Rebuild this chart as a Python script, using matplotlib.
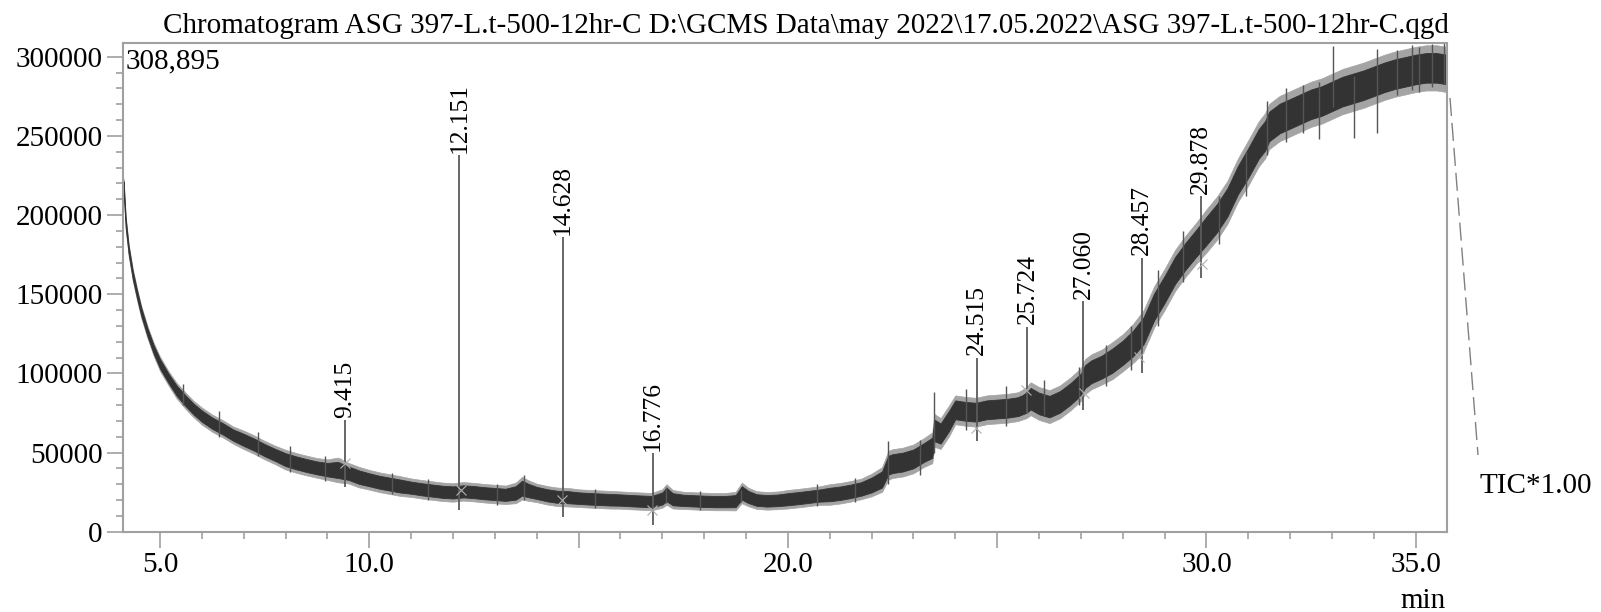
import numpy as np
import matplotlib
matplotlib.use('Agg')
import matplotlib.pyplot as plt
from matplotlib.ticker import MultipleLocator, FixedLocator, FixedFormatter
from matplotlib.lines import Line2D

plt.rcParams['font.family'] = ['Liberation Serif', 'DejaVu Serif']

# TIC trace: band centre and half width of the noise
rt = [4.13, 4.18, 4.25, 4.35, 4.45, 4.55, 4.7, 4.85,
      5.0, 5.2, 5.4, 5.6, 5.8,
      6.0, 6.25, 6.5, 6.75,
      7.0, 7.25, 7.5, 7.75,
      8.0, 8.25, 8.5, 8.75,
      9.0, 9.25, 9.5, 9.75,
      10.0, 10.25, 10.5, 10.75,
      11.0, 11.25, 11.5, 11.75,
      12.0, 12.25, 12.5, 12.75,
      13.0, 13.25, 13.5, 13.65, 13.8,
      14.0, 14.25, 14.5, 14.75,
      15.0, 15.25, 15.5, 15.75,
      16.0, 16.25, 16.5, 16.75,
      17.0, 17.1, 17.25, 17.5, 17.75,
      18.0, 18.25, 18.5, 18.75, 18.9,
      19.05, 19.25, 19.5, 19.75,
      20.0, 20.25, 20.5, 20.75,
      21.0, 21.25, 21.5, 21.75,
      22.0, 22.25, 22.4, 22.5, 22.75,
      23.0, 23.25, 23.45, 23.5, 23.65, 23.85,
      24.0, 24.25, 24.5, 24.75,
      25.0, 25.25, 25.5, 25.7, 25.8,
      26.0, 26.25, 26.5, 26.75,
      27.0, 27.1, 27.25, 27.5, 27.75,
      28.0, 28.25, 28.5, 28.75,
      29.0, 29.25, 29.5, 29.75,
      30.0, 30.25, 30.5, 30.75,
      31.0, 31.25, 31.4, 31.5, 31.75,
      32.0, 32.25, 32.5, 32.75,
      33.0, 33.25, 33.5, 33.75,
      34.0, 34.25, 34.5, 34.75,
      35.0, 35.25, 35.5, 35.74]

tic_center = [218000, 195000, 178000, 162000, 150000, 139000, 126000, 115000,
              106000, 97000, 89000, 83000, 77500,
              73000, 68500, 65000, 61000,
              58000, 55000, 51500, 48500,
              45500, 43500, 41800, 40300,
              39200, 39000, 37000, 34500,
              32800, 31200, 30000, 28800,
              27800, 26800, 26000, 25200,
              24800, 25500, 25000, 24300,
              23800, 23300, 24500, 27500, 26000,
              24500, 23000, 22000, 21800,
              21200, 20800, 20500, 20200,
              20000, 19600, 19300, 19000,
              21000, 23500, 20500, 19800, 19500,
              19200, 19000, 19000, 19300, 24500,
              22000, 20000, 19500, 19800,
              20500, 21200, 22000, 22800,
              23500, 24300, 25500, 27000,
              29500, 33000, 42000, 43000, 44000,
              46000, 50000, 53000, 64000, 62000, 70000,
              77000, 76000, 75500, 77000,
              77500, 78000, 79000, 81500, 84000,
              81000, 79000, 82000, 87000,
              93000, 98000, 101000, 104000, 108000,
              113000, 119000, 127000, 142000,
              153000, 165000, 174000, 182000,
              190000, 198000, 208000, 222000,
              233000, 245000, 250000, 256000, 261000,
              264000, 267000, 270000, 272000,
              275000, 278000, 280000, 282000,
              284500, 287000, 289000, 290500,
              292000, 293000, 293000, 292000]

tic_noise = [4000, 3500, 3000, 3000, 3000, 3000, 3000, 3200,
             3500, 3500, 3800, 4000, 4000,
             4200, 4200, 4200, 4200,
             4500, 4500, 4500, 4500,
             4800, 4800, 4800, 4800,
             5000, 6000, 5000, 5000,
             4800, 4800, 4800, 4800,
             4500, 4500, 4500, 4500,
             4500, 4500, 4500, 4500,
             4500, 4500, 5000, 5500, 5000,
             4500, 4500, 4500, 4500,
             4300, 4300, 4300, 4300,
             4200, 4200, 4200, 4200,
             4500, 5000, 4500, 4200, 4200,
             4200, 4200, 4200, 4500, 5000,
             4500, 4300, 4300, 4300,
             4500, 4500, 4500, 4500,
             5000, 5000, 5000, 5000,
             5500, 6000, 7000, 7000, 7000,
             7000, 7000, 7500, 8000, 7500, 7500,
             7000, 7000, 7000, 7000,
             7000, 7000, 7000, 7500, 8000,
             8000, 8000, 8000, 8000,
             8000, 8500, 8500, 8500, 9000,
             9000, 9500, 10000, 10000,
             10000, 10000, 10000, 10000,
             10500, 10500, 10500, 10500,
             11000, 11000, 11000, 11000, 11000,
             11000, 11000, 11000, 11000,
             11000, 11000, 11000, 11000,
             11000, 11000, 11000, 11000,
             11000, 11000, 11000, 11000]

# labelled peaks
peak_rt = [9.415, 12.151, 14.628, 16.776, 24.515, 25.724, 27.060, 28.457, 29.878]
peak_top = [70500, 238000, 186000, 49500, 110000, 129500, 145500, 173000, 212000]
peak_low = [28000, 13700, 9500, 4500, 57000, 75000, 77000, 100000, 160000]
peak_name = ['9.415', '12.151', '14.628', '16.776', '24.515', '25.724', '27.060', '28.457', '29.878']

# peak start/end marks
mark_rt = [9.43, 12.18, 14.61, 16.76, 24.50, 25.70, 27.08, 28.40, 29.90]
mark_val = [43200, 26400, 20000, 13700, 65400, 89600, 87600, 110600, 168800]

# single noise spikes that stand out of the band
spike_rt = [5.55, 6.4, 7.35, 8.1, 8.95, 10.55, 11.4, 13.05, 13.7, 15.4, 17.08, 17.9, 18.88,
            20.7, 21.6, 22.40, 23.15, 23.48, 24.25, 25.2, 26.13, 26.95, 27.6, 28.2, 28.85,
            29.45, 30.3, 30.95, 31.45, 31.9, 32.3, 32.68, 33.02, 33.52, 34.08, 34.55,
            34.92, 35.08, 35.38, 35.68]
spike_lo = [80000, 60000, 48000, 38000, 32000, 24000, 20000, 17000, 20000, 15000, 18000, 14000, 19000,
            16000, 19000, 30000, 36000, 50000, 64000, 67000, 74000, 80000, 92000, 102000, 130000,
            158000, 182000, 212000, 238000, 246000, 252000, 248000, 268000, 249000, 252000, 276000,
            279000, 278000, 281000, 283000]
spike_hi = [93000, 76000, 63000, 54000, 48000, 37000, 33000, 30000, 36000, 27000, 28500, 26000, 26500,
            30000, 34000, 57000, 58000, 88500, 90000, 92000, 96000, 104000, 118000, 130000, 165000,
            190000, 212000, 240000, 272000, 280000, 282000, 284000, 307000, 288000, 305000, 304000,
            307500, 306000, 308000, 308895]

max_int = 308895
xtick_vals = [5, 10, 15, 20, 25, 30, 35]
xtick_text = ['5.0', '10.0', '', '20.0', '', '30.0', '35.0']

W, H = 1601, 612
fig = plt.figure(figsize=(W / 100, H / 100), dpi=100)
ax = fig.add_axes([122.7 / W, 1 - 531.7 / H, (1446.7 - 122.7) / W, (531.7 - 42.7) / H])

c = np.array(tic_center, dtype=float)
hw = np.array(tic_noise, dtype=float)
# light fringe of the noise, then the dense core
ax.fill_between(rt, c - 1.3 * hw, c + 1.3 * hw, color='#a4a4a4', lw=0.5, edgecolor='#a4a4a4')
ax.fill_between(rt, c - 0.85 * hw, c + 0.85 * hw, color='#333333', lw=0.6, edgecolor='#333333')

ax.vlines(spike_rt, spike_lo, spike_hi, color='#555555', lw=1.0)
ax.vlines(peak_rt, peak_low, peak_top, color='#5a5a5a', lw=1.3)
ax.plot(mark_rt, mark_val, ls='none', marker='x', ms=7, mew=0.8, color='#b0b0b0')

for x, y, s in zip(peak_rt, peak_top, peak_name):
    ax.text(x, y + 1500, s, rotation=90, ha='center', va='bottom', fontsize=18.4)

ax.set_xlim(4.108, 35.74)
ax.set_ylim(0, max_int)

ax.xaxis.set_major_locator(FixedLocator(xtick_vals))
ax.xaxis.set_major_formatter(FixedFormatter(xtick_text))
ax.xaxis.set_minor_locator(MultipleLocator(1))
ax.yaxis.set_major_locator(MultipleLocator(50000))
ax.yaxis.set_minor_locator(MultipleLocator(10000))
ax.yaxis.set_major_formatter(matplotlib.ticker.FuncFormatter(lambda v, p: '%d' % v))

for s in ax.spines.values():
    s.set_color('#a0a0a0')
    s.set_linewidth(1.5)
ax.tick_params(which='major', length=11.5, width=1.2, color='#a0a0a0', labelsize=21)
ax.tick_params(which='minor', length=5.2, width=1.2, color='#a0a0a0')
ax.tick_params(axis='x', pad=3)
ax.tick_params(axis='y', pad=3)

fig.text(806 / W, 1 - 33 / H,
         'Chromatogram ASG 397-L.t-500-12hr-C D:\\GCMS Data\\may 2022\\17.05.2022\\ASG 397-L.t-500-12hr-C.qgd',
         ha='center', va='baseline', fontsize=21)
fig.text(126 / W, 1 - 68 / H, '308,895', ha='left', va='baseline', fontsize=21)
fig.text(1446 / W, 1 - 608 / H, 'min', ha='right', va='baseline', fontsize=21)
fig.text(1479 / W, 1 - 493 / H, 'TIC*1.00', ha='left', va='baseline', fontsize=21)

fig.add_artist(Line2D([1450 / W, 1478 / W], [1 - 98 / H, 1 - 455 / H], transform=fig.transFigure,
                      color='#808080', lw=1, ls=(0, (13, 5))))

fig.savefig('out.png', dpi=100)
